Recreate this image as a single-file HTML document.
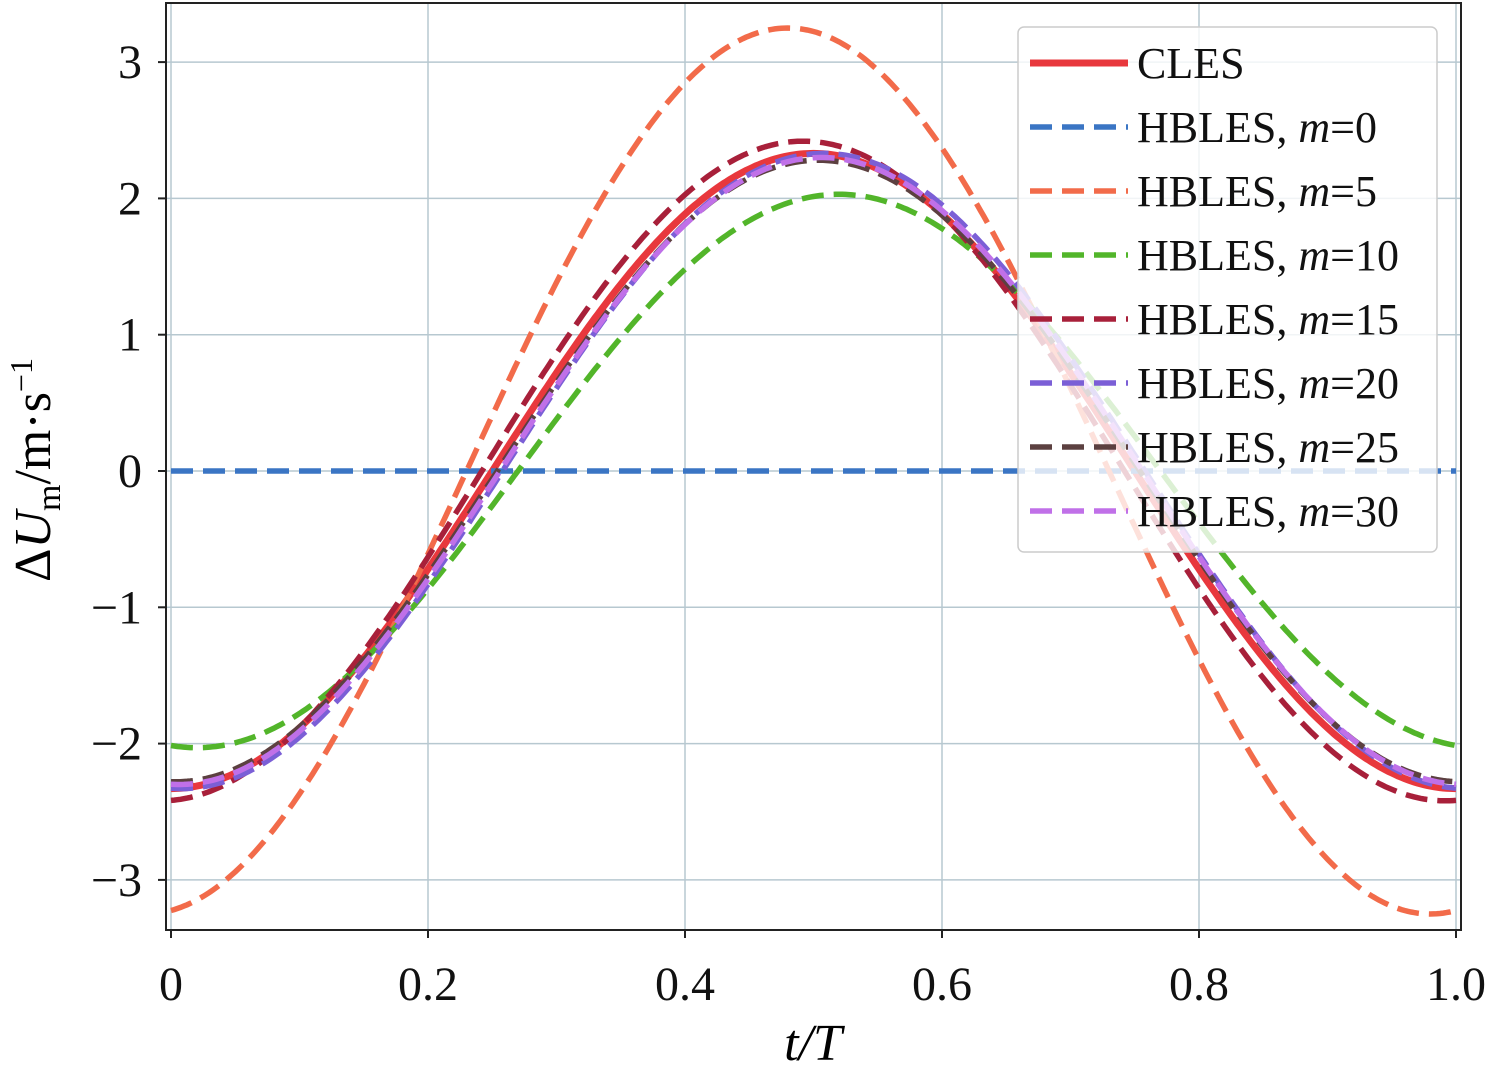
<!DOCTYPE html>
<html><head><meta charset="utf-8"><style>
html,body{margin:0;padding:0;background:#fff;}
svg{display:block;font-family:"Liberation Serif","Times New Roman",serif;}
</style></head><body>
<svg id="s" width="1488" height="1065" viewBox="0 0 1488 1065" xmlns="http://www.w3.org/2000/svg">
<g id="grid" stroke="#b7c8d0" stroke-width="1.5"></g>
<g id="curves" fill="none" stroke-width="5.5"></g>
<rect x="166" y="3" width="1295" height="927" fill="none" stroke="#222" stroke-width="2"/>
<g id="ticks" stroke="#222" stroke-width="2"></g>
<g id="labels" font-size="48" fill="#111" font-family="Liberation Serif, serif"></g>
<text x="813" y="1060" font-size="52" text-anchor="middle" font-style="italic" font-family="Liberation Serif, serif">t/T</text>
<text transform="translate(50,470) rotate(-90)" font-size="52" text-anchor="middle" font-family="Liberation Serif, serif">Δ<tspan font-style="italic">U</tspan><tspan font-size="34" dy="10">m</tspan><tspan dy="-10">/m·s</tspan><tspan font-size="32" dy="-18">−1</tspan></text>
<rect x="1018" y="27" width="419" height="525" rx="6" fill="#fff" fill-opacity="0.8" stroke="#ccc" stroke-width="1.5"/>
<g id="leg" font-size="44" fill="#111" font-family="Liberation Serif, serif"></g>
</svg>
<script>
var ns="http://www.w3.org/2000/svg";
function el(p,t,a,txt){var e=document.createElementNS(ns,t);for(var k in a)e.setAttribute(k,a[k]);if(txt!==undefined)e.textContent=txt;document.getElementById(p).appendChild(e);return e;}
var X=function(t){return 171+1285*t;},Y=function(v){return 471-136.3*v;};
for(var i=0;i<=5;i++){var x=X(i*0.2);el("grid","line",{x1:x,x2:x,y1:3,y2:930});el("ticks","line",{x1:x,x2:x,y1:930,y2:938});
el("labels","text",{x:x,y:1000,"text-anchor":"middle"},["0","0.2","0.4","0.6","0.8","1.0"][i]);}
for(var v=-3;v<=3;v++){var y=Y(v);el("grid","line",{x1:166,x2:1461,y1:y,y2:y});el("ticks","line",{x1:158,x2:166,y1:y,y2:y});
el("labels","text",{x:142,y:y+16,"text-anchor":"end"},v<0?"−"+(-v):""+v);}
var S=[
["CLES","#e8383d",2.33,0.0,"",null],
["HBLES, m=0","#3a75c4",0,0,"22 10",0],
["HBLES, m=5","#f26b4a",3.25,-0.02,"22 10",5],
["HBLES, m=10","#52b52a",2.03,0.02,"22 10",10],
["HBLES, m=15","#a8203a",2.42,-0.008,"22 10",15],
["HBLES, m=20","#7b5fd6",2.33,0.008,"22 10",20],
["HBLES, m=25","#5c4040",2.28,0.004,"22 10",25],
["HBLES, m=30","#c070e8",2.3,0.006,"22 10",30]];
S.forEach(function(s,i){var d="";for(var k=0;k<=400;k++){var t=k/400;var v=-s[2]*Math.cos(2*Math.PI*(t-s[3]));d+=(k?"L":"M")+X(t).toFixed(1)+" "+Y(v).toFixed(1);}
var a={d:d,stroke:s[1]};if(s[4])a["stroke-dasharray"]=s[4];if(i==0)a["stroke-width"]=7;el("curves","path",a);
var ly=63+i*64;var la={x1:1030,x2:1128,y1:ly,y2:ly,stroke:s[1],"stroke-width":i==0?7:5.5};if(s[4])la["stroke-dasharray"]=s[4];el("leg","line",la);
var tx=el("leg","text",{x:1137,y:ly+15});
if(s[5]===null){tx.textContent="CLES";}else{tx.appendChild(document.createTextNode("HBLES, "));var ts=document.createElementNS(ns,"tspan");ts.setAttribute("font-style","italic");ts.textContent="m";tx.appendChild(ts);tx.appendChild(document.createTextNode("="+s[5]));}
});
</script>
</body></html>
